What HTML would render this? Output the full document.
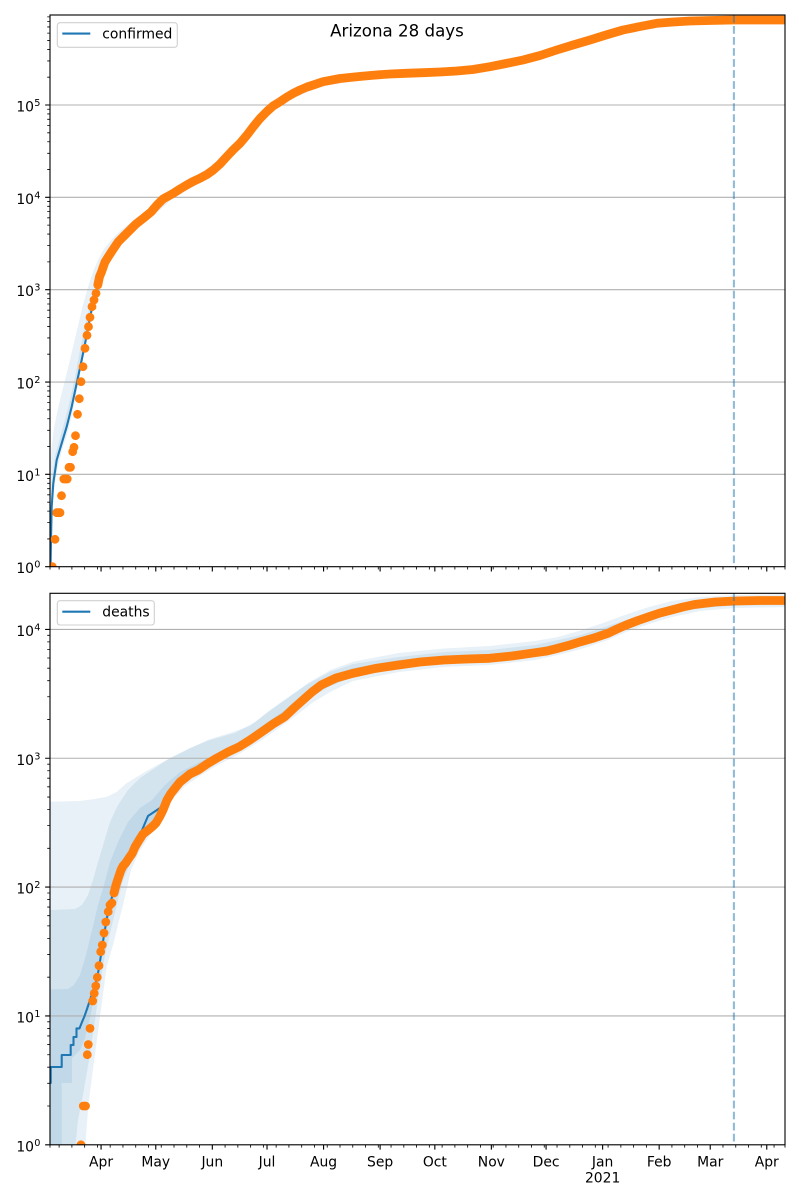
<!DOCTYPE html>
<html><head><meta charset="utf-8"><style>
html,body{margin:0;padding:0;background:#fff;}
svg{display:block;font-family:"DejaVu Sans","Liberation Sans",sans-serif;}
</style></head><body>
<svg width="800" height="1200" viewBox="0 0 800 1200" xmlns="http://www.w3.org/2000/svg">
<defs>
<clipPath id="c1"><rect x="50" y="15" width="735" height="551.7"/></clipPath>
<clipPath id="c2"><rect x="50" y="593.3" width="735" height="551.5"/></clipPath>
<g id="xt">
<path stroke="#000" stroke-width="1.11" fill="none" d="M101.07 0v4.86M155.78 0v4.86M212.32 0v4.86M267.03 0v4.86M323.57 0v4.86M380.11 0v4.86M434.83 0v4.86M491.36 0v4.86M546.08 0v4.86M602.62 0v4.86M659.16 0v4.86M710.22 0v4.86M766.76 0v4.86"/>
<path stroke="#000" stroke-width="0.83" fill="none" d="M50 0v2.78M59.12 0v2.78M71.89 0v2.78M84.65 0v2.78M97.42 0v2.78M110.19 0v2.78M122.95 0v2.78M135.72 0v2.78M148.49 0v2.78M161.25 0v2.78M174.02 0v2.78M186.79 0v2.78M199.55 0v2.78M225.09 0v2.78M237.85 0v2.78M250.62 0v2.78M263.39 0v2.78M276.15 0v2.78M288.92 0v2.78M301.69 0v2.78M314.45 0v2.78M327.22 0v2.78M339.99 0v2.78M352.75 0v2.78M365.52 0v2.78M378.29 0v2.78M391.05 0v2.78M403.82 0v2.78M416.59 0v2.78M429.35 0v2.78M442.12 0v2.78M454.89 0v2.78M467.65 0v2.78M480.42 0v2.78M493.19 0v2.78M505.96 0v2.78M518.72 0v2.78M531.49 0v2.78M544.26 0v2.78M557.02 0v2.78M569.79 0v2.78M582.56 0v2.78M595.32 0v2.78M608.09 0v2.78M620.86 0v2.78M633.62 0v2.78M646.39 0v2.78M671.92 0v2.78M684.69 0v2.78M697.46 0v2.78M722.99 0v2.78M735.76 0v2.78M748.52 0v2.78M761.29 0v2.78M774.06 0v2.78M785 0v2.78"/>
</g>
</defs>
<rect width="800" height="1200" fill="#fff"/>

<!-- ============ TOP AXES ============ -->
<g clip-path="url(#c1)">
<polygon fill="#1f77b4" fill-opacity="0.1" points="50,567 50,470 51.5,448 54,428 58,408 63,388 68,368 73,347 78,326 83,305 88,287 93,272 98,260 104,249 112,239 120,231 130,223 143,213 160,200 173,188 187,180 200,173 213,165 227,152 240,138 253,121 267,107 280,97 293,89 313,81 340,75 373,72 423,69 473,66 506,60 540,51 573,41 606,31 640,23 673,18 710,16.5 734,16 790,15.5 790,24 734,24 690,25 657,28 623,34 590,44 557,54 523,64 490,71 457,75 423,77 390,78 357,81 323,86 293,98 280,106 267,116 253,131 240,148 227,162 213,175 200,183 187,190 173,198 160,210 143,223 130,234 118,245 108,260 100,280 95,296 90,315 86,335 83,355 80,375 76,395 72,415 67,435 62,450 57,470 53,495 51.5,530 51,567"/>
<polygon fill="#1f77b4" fill-opacity="0.1" points="50,567 50.5,505 52,478 55,456 60,438 65,420 70,400 75,377 80,350 85,326 90,305 95,287 100,270 108,254 120,239 130,231 130,234 120,244 108,258 100,279 95,295 90,316 86,336 83,356 79,376 75,393 70,412 65,430 60,448 55,470 52,500 51,567"/>
<path stroke="#b0b0b0" stroke-width="1.11" fill="none" d="M50 474.36H785M50 382.02H785M50 289.68H785M50 197.34H785M50 105H785"/>
<polyline fill="none" stroke="#1f77b4" stroke-width="2.08" stroke-linejoin="round" points="50.5,566.7 51,540 51.7,506.7 53.3,483.3 56.7,460 61.7,443.3 66.7,426.7 71.7,406.7 76.7,383.3 81.7,360 85,344 88,328 92,308 96,293 100,277 103.3,266.7 108.3,256.7 118.3,241.7 130,230 143.3,218.3 160,205 173.3,193.3 186.7,185 200,178.3 213.3,170 226.7,156.7 240,143.3 253.3,126.7 266.7,111.7 280,101.7 293.3,93.3 313.3,85 340,78.5 373,75.2 423,72.7 473,69.5 506,63.5 540,55.5 573,45 606,35 640,26.5 673,22 710,20.5 790,20"/>
<g fill="#ff7f0e">
<circle cx="52.3" cy="566.7" r="4.4"/><circle cx="55" cy="539.3" r="4.4"/><circle cx="56.7" cy="512.7" r="4.4"/><circle cx="58.5" cy="512.7" r="4.4"/><circle cx="60" cy="512.7" r="4.4"/><circle cx="61.5" cy="495.7" r="4.4"/><circle cx="63.8" cy="479" r="4.4"/><circle cx="65.5" cy="479" r="4.4"/><circle cx="67.2" cy="479" r="4.4"/><circle cx="69" cy="467.3" r="4.4"/><circle cx="70.5" cy="467.3" r="4.4"/><circle cx="72.7" cy="451.7" r="4.4"/><circle cx="74" cy="447.3" r="4.4"/><circle cx="75.5" cy="435.7" r="4.4"/><circle cx="77.5" cy="414.3" r="4.4"/><circle cx="79.3" cy="398.7" r="4.4"/><circle cx="81" cy="381.7" r="4.4"/><circle cx="83" cy="366.7" r="4.4"/><circle cx="85" cy="348.3" r="4.4"/><circle cx="87" cy="335.3" r="4.4"/><circle cx="88.5" cy="326.7" r="4.4"/><circle cx="90" cy="317.3" r="4.4"/><circle cx="92" cy="306.7" r="4.4"/><circle cx="94" cy="300" r="4.4"/><circle cx="96" cy="293.3" r="4.4"/>
</g>
<polyline fill="none" stroke="#ff7f0e" stroke-width="8.8" stroke-linecap="round" stroke-linejoin="round" points="97.8,285 99.5,276.7 101.5,272 103.3,266.7 105,262 108.3,256.7 112,251 118.3,241.7 124,236 130,230 136,224 143.3,218.3 151,212 157,205 163,199 173.3,193.3 180,189 186.7,185 193,181.5 200,178.3 207,174.5 213.3,170 220,164 226.7,156.7 233,150 240,143.3 247,135 253.3,126.7 260,118.5 266.7,111.7 273,106 280,101.7 287,97 293.3,93.3 300,90 307,87 313.3,85 323,81.7 340,78.5 356.7,76.7 373,75.2 390,74 406,73.3 423,72.7 440,72 456.7,71 473,69.5 490,66.7 506,63.5 523,60 540,55.5 556.7,50 573,45 590,40 606,35 623,30 640,26.5 656.7,23.3 673,22 690,21 710,20.5 733,20 760,20 790,20"/>
<line x1="733.9" y1="15" x2="733.9" y2="566.7" stroke="#1f77b4" stroke-opacity="0.5" stroke-width="2.08" stroke-dasharray="7.7 3.33"/>
</g>
<rect x="50" y="15" width="735" height="551.7" fill="none" stroke="#000" stroke-width="1.11"/>
<path stroke="#000" stroke-width="1.11" fill="none" d="M45.14 566.7H50M45.14 474.36H50M45.14 382.02H50M45.14 289.68H50M45.14 197.34H50M45.14 105H50"/>
<path stroke="#000" stroke-width="0.83" fill="none" d="M47.22 538.9H50M47.22 522.64H50M47.22 511.11H50M47.22 502.16H50M47.22 494.84H50M47.22 488.66H50M47.22 483.31H50M47.22 478.59H50M47.22 446.56H50M47.22 430.3H50M47.22 418.77H50M47.22 409.82H50M47.22 402.5H50M47.22 396.32H50M47.22 390.97H50M47.22 386.25H50M47.22 354.22H50M47.22 337.96H50M47.22 326.43H50M47.22 317.48H50M47.22 310.16H50M47.22 303.98H50M47.22 298.63H50M47.22 293.91H50M47.22 261.88H50M47.22 245.62H50M47.22 234.09H50M47.22 225.14H50M47.22 217.82H50M47.22 211.64H50M47.22 206.29H50M47.22 201.57H50M47.22 169.54H50M47.22 153.28H50M47.22 141.75H50M47.22 132.8H50M47.22 125.48H50M47.22 119.3H50M47.22 113.95H50M47.22 109.23H50M47.22 77.2H50M47.22 60.94H50M47.22 49.41H50M47.22 40.46H50M47.22 33.14H50M47.22 26.96H50M47.22 21.61H50M47.22 16.89H50"/>
<use href="#xt" transform="translate(0,566.7)"/>
<g font-size="13.9" fill="#000">
<text x="34" y="573.2" text-anchor="end">10</text><text x="34.2" y="567.7" font-size="9.73">0</text>
<text x="34" y="480.86" text-anchor="end">10</text><text x="34.2" y="475.36" font-size="9.73">1</text>
<text x="34" y="388.52" text-anchor="end">10</text><text x="34.2" y="383.02" font-size="9.73">2</text>
<text x="34" y="296.18" text-anchor="end">10</text><text x="34.2" y="290.68" font-size="9.73">3</text>
<text x="34" y="203.84" text-anchor="end">10</text><text x="34.2" y="198.34" font-size="9.73">4</text>
<text x="34" y="111.5" text-anchor="end">10</text><text x="34.2" y="106" font-size="9.73">5</text>
</g>
<rect x="57.3" y="22.7" width="120" height="24.6" rx="2.8" fill="#fff" fill-opacity="0.8" stroke="#d0d0d0" stroke-width="1.11"/>
<line x1="62.3" y1="33.6" x2="90.3" y2="33.6" stroke="#1f77b4" stroke-width="2.08"/>
<text x="102.3" y="38.4" font-size="13.9" fill="#000">confirmed</text>
<text x="397" y="36.3" font-size="16.67" text-anchor="middle" fill="#000">Arizona 28 days</text>

<!-- ============ BOTTOM AXES ============ -->
<g clip-path="url(#c2)">
<polygon fill="#1f77b4" fill-opacity="0.1" points="50,801.7 80,801 95,799 107,796.7 116.7,792 125.5,784 133.3,779 148.3,770 166.7,760 186.7,750 207.4,740 233,732 250,726 266.6,713.3 289.4,696.7 307.6,683.3 330.3,670 353.1,661.7 398.6,653 444.1,648.5 489.6,646 535.2,641 558,637 580.7,630.5 603,623 626.2,614.5 649,607 671.7,601 700,597 735,595 790,594 790,607 735,608 700,611 672,617 649,624 626,632 608,640 581,649 558,655 535,660 490,665 444,667 399,672 353,681 330,692 312,703 294,717 276,730 262,740 239,754 216,766 198,777 185,786 172,800 160,820 148,838 139,852 131,870 123,905 118,925 113,945 106.7,966.7 100,1016.7 93.3,1066.7 88.3,1106 85,1150 50,1150"/>
<polygon fill="#1f77b4" fill-opacity="0.1" points="50,910 75,909 82,905 88,895 93,880 98,862 104,842 110,822 118,805 128,790 140,778 155,768 170,758 190,748 210,740 235,733 255,722 270,710 290,696 308,684 330,672 353,664 399,657 444,652 490,650 535,645 581,635 626,620 672,605 700,600 735,598 790,597 790,605 735,605.5 700,608 672,613 649,620 626,628 608,636 581,645 558,651 535,656 490,662 444,664 399,668 353,677 330,686 312,697 294,711 276,725 262,735 239,749 216,761 198,773 185,782 172,795 160,814 148,832 139,845 131,862 123,880 118,900 112,925 105,955 100,985 95,1020 89,1060 83,1095 78,1120 75,1150 50,1150"/>
<polygon fill="#1f77b4" fill-opacity="0.1" points="50,989.5 68,989 74,985 80,975 86,955 92,930 98,905 104,885 110,862 118,842 128,822 140,808 152,800 165,785 180,772 200,762 220,752 240,742 262,726 285,710 303,694 321,680 353,668 399,660 444,656 490,654 535,649 581,638 626,621 672,606 735,600 790,599 790,604 735,604.5 672,612 626,627 581,644 535,655 490,661 444,663 399,667 353,676 321,690 303,705 285,720 262,735 240,750 216,762 198,772 185,781 171,795 160,812 148,828 139,842 130,858 122,875 116,890 110,912 105,935 100,962 95,992 90,1018 85,1038 80,1050 72,1058 72,1083 61.7,1083 61.7,1150 50,1150"/>
<path stroke="#b0b0b0" stroke-width="1.11" fill="none" d="M50 1015.95H785M50 887.1H785M50 758.25H785M50 629.4H785"/>
<polyline fill="none" stroke="#1f77b4" stroke-width="2.08" stroke-linejoin="round" points="50,1083 50.7,1083 50.7,1067 61.7,1067 61.7,1055 70.7,1055 70.7,1045 73.5,1045 73.5,1037 76.5,1037 76.5,1028.4 79.5,1028.4 82,1022 84.3,1016.7 87,1009 90,1000 93,991 96.7,980 99,968 101,955 104,935 108,912 112,897 118,878 125,863 132,851 140,835 148,816 160,808 171,793 184.7,778.3 198.3,770 216.5,758.3 239.3,746.7 262,731.7 284.8,716.7 303,700 321.2,685 353.1,673.3 398.6,665 444.1,660 489.6,658.3 535.2,652.7 580.7,641.7 608,633.3 626.2,625 649,616.7 671.7,610 694.5,605 735.4,602 790,601"/>
<g fill="#ff7f0e">
<circle cx="81" cy="1144.8" r="4.4"/><circle cx="83.3" cy="1106" r="4.4"/><circle cx="85.5" cy="1106" r="4.4"/><circle cx="87.3" cy="1054.7" r="4.4"/><circle cx="88.3" cy="1044.5" r="4.4"/><circle cx="90" cy="1028.4" r="4.4"/><circle cx="92.7" cy="1001" r="4.4"/><circle cx="94.2" cy="993.3" r="4.4"/><circle cx="95.8" cy="986" r="4.4"/><circle cx="97.3" cy="977.3" r="4.4"/><circle cx="99" cy="965.7" r="4.4"/><circle cx="100.7" cy="951.7" r="4.4"/><circle cx="102.3" cy="945" r="4.4"/><circle cx="104" cy="933" r="4.4"/><circle cx="105.8" cy="922" r="4.4"/><circle cx="108.2" cy="911.7" r="4.4"/><circle cx="110" cy="905" r="4.4"/><circle cx="111.9" cy="903" r="4.4"/>
</g>
<polyline fill="none" stroke="#ff7f0e" stroke-width="8.8" stroke-linecap="round" stroke-linejoin="round" points="114,893 116,885 118.7,876.7 121,870 123,866 125.5,863.3 129,858 132.3,853.3 135,847 139.2,840 143,834 148.3,830 153,826 156,823 159.7,816.7 163,810 167,800 171,793.3 176,787 180,782 184.7,778.3 190,774 198.3,770 207,764 216.5,758.3 228,752 239.3,746.7 250,740 262,731.7 273,724 284.8,716.7 294,708 303,700 312,692 321.2,685 336,678 353.1,673.3 375,668.5 398.6,665 420,662 444.1,660 467,659 489.6,658.3 512,656 535.2,652.7 547,651 557.9,648.3 570,645 580.7,641.7 594,638 608,633.3 617,629 626.2,625 638,620.5 649,616.7 660,613 671.7,610 683,607 694.5,604.5 715,602 735.4,601 760,600.5 790,600.5"/>
<line x1="733.9" y1="593.3" x2="733.9" y2="1144.8" stroke="#1f77b4" stroke-opacity="0.5" stroke-width="2.08" stroke-dasharray="7.7 3.33"/>
</g>
<rect x="50" y="593.3" width="735" height="551.5" fill="none" stroke="#000" stroke-width="1.11"/>
<path stroke="#000" stroke-width="1.11" fill="none" d="M45.14 1144.8H50M45.14 1015.95H50M45.14 887.1H50M45.14 758.25H50M45.14 629.4H50"/>
<path stroke="#000" stroke-width="0.83" fill="none" d="M47.22 1106.01H50M47.22 1083.32H50M47.22 1067.22H50M47.22 1054.74H50M47.22 1044.54H50M47.22 1035.91H50M47.22 1028.44H50M47.22 1021.85H50M47.22 977.16H50M47.22 954.47H50M47.22 938.37H50M47.22 925.89H50M47.22 915.69H50M47.22 907.06H50M47.22 899.59H50M47.22 893H50M47.22 848.31H50M47.22 825.62H50M47.22 809.52H50M47.22 797.04H50M47.22 786.84H50M47.22 778.21H50M47.22 770.74H50M47.22 764.15H50M47.22 719.46H50M47.22 696.77H50M47.22 680.67H50M47.22 668.19H50M47.22 657.99H50M47.22 649.36H50M47.22 641.89H50M47.22 635.3H50"/>
<use href="#xt" transform="translate(0,1144.8)"/>
<g font-size="13.9" fill="#000">
<text x="34" y="1151.3" text-anchor="end">10</text><text x="34.2" y="1145.8" font-size="9.73">0</text>
<text x="34" y="1022.45" text-anchor="end">10</text><text x="34.2" y="1016.95" font-size="9.73">1</text>
<text x="34" y="893.6" text-anchor="end">10</text><text x="34.2" y="888.1" font-size="9.73">2</text>
<text x="34" y="764.75" text-anchor="end">10</text><text x="34.2" y="759.25" font-size="9.73">3</text>
<text x="34" y="635.9" text-anchor="end">10</text><text x="34.2" y="630.4" font-size="9.73">4</text>
</g>
<g font-size="13.9" fill="#000" text-anchor="middle">
<text x="101.07" y="1166.6">Apr</text>
<text x="155.78" y="1166.6">May</text>
<text x="212.32" y="1166.6">Jun</text>
<text x="267.03" y="1166.6">Jul</text>
<text x="323.57" y="1166.6">Aug</text>
<text x="380.11" y="1166.6">Sep</text>
<text x="434.83" y="1166.6">Oct</text>
<text x="491.36" y="1166.6">Nov</text>
<text x="546.08" y="1166.6">Dec</text>
<text x="602.62" y="1166.6">Jan</text>
<text x="602.62" y="1182.6">2021</text>
<text x="659.16" y="1166.6">Feb</text>
<text x="710.22" y="1166.6">Mar</text>
<text x="766.76" y="1166.6">Apr</text>
</g>
<rect x="57.3" y="600.7" width="97" height="24.3" rx="2.8" fill="#fff" fill-opacity="0.8" stroke="#d0d0d0" stroke-width="1.11"/>
<line x1="62.3" y1="611.7" x2="90.3" y2="611.7" stroke="#1f77b4" stroke-width="2.08"/>
<text x="102.3" y="616.4" font-size="13.9" fill="#000">deaths</text>
</svg>
</body></html>
